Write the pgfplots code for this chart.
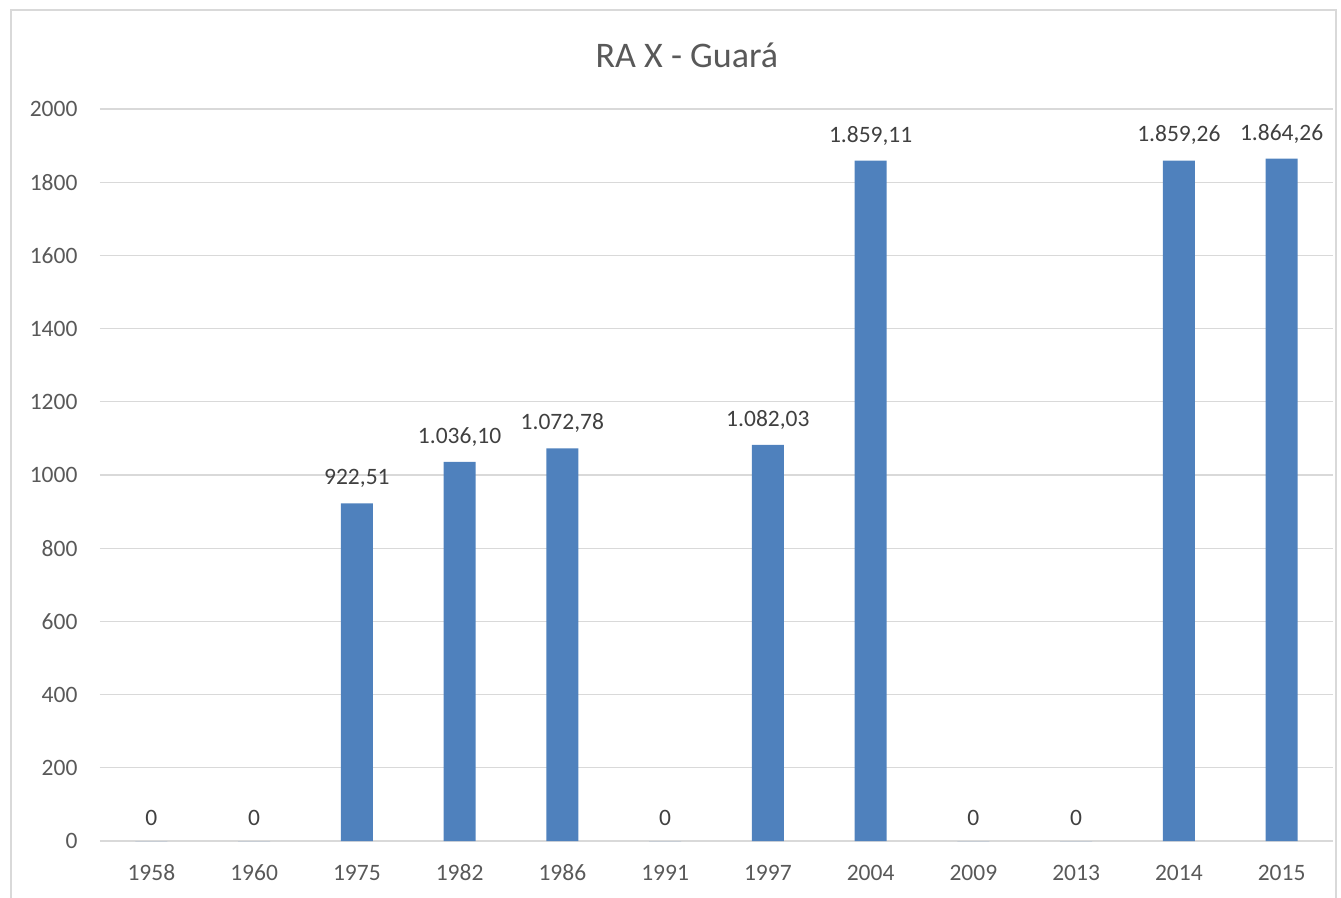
\documentclass[border=0pt]{standalone}
\usepackage{pgfplots}
\pgfplotsset{compat=1.18}
\usepackage{fontspec}
\setmainfont{Carlito}
\definecolor{barblue}{HTML}{4F81BD}
\definecolor{txt}{HTML}{595959}
\definecolor{lbltxt}{HTML}{404040}
\definecolor{gridgray}{HTML}{D9D9D9}
\begin{document}
\begin{tikzpicture}[x=1pt,y=1pt]
\useasboundingbox (-100,-56) rectangle (1241,841);
\begin{scope}
\clip (-100,-56) rectangle (1241,841);
\draw[gridgray,line width=1.2pt] (-89,-70) rectangle (1236,831);
\end{scope}
\begin{axis}[
  at={(0,0)}, anchor=south west,
  scale only axis, width=1233pt, height=732pt,
  xmin=-0.5, xmax=11.5, ymin=0, ymax=2000,
  xtick={0,...,11},
  xticklabels={1958,1960,1975,1982,1986,1991,1997,2004,2009,2013,2014,2015},
  ytick={0,200,...,2000},
  axis line style={draw=none},
  axis x line*=bottom,
  x axis line style={draw=gridgray, line width=1.2pt},
  xmajorgrids=false, ymajorgrids=true,
  grid style={draw=gridgray, line width=1.2pt},
  major tick length=0pt,
  tick style={draw=none},
  ticklabel style={font=\fontsize{23.5}{28}\selectfont, text=txt},
  yticklabel style={xshift=-19pt},
  xticklabel style={anchor=base, yshift=-39pt},
  /pgf/number format/assume math mode=true,
  /pgf/number format/1000 sep={},
  ybar, bar width=32pt,
  nodes near coords,
  point meta=explicit symbolic,
  every node near coord/.append style={font=\fontsize{23.5}{28}\selectfont, text=lbltxt, yshift=12pt},
  title={RA X - Guará},
  title style={font=\fontsize{36}{42}\selectfont, text=txt, at={(axis description cs:0.476,1)}, anchor=south, yshift=32pt},
]
\addplot[fill=barblue, draw=none] table[meta=lbl, row sep=\\] {
x y lbl\\
0 0 0\\
1 0 0\\
2 922.51 922,51\\
3 1036.10 1.036,10\\
4 1072.78 1.072,78\\
5 0 0\\
6 1082.03 1.082,03\\
7 1859.11 1.859,11\\
8 0 0\\
9 0 0\\
10 1859.26 1.859,26\\
11 1864.26 1.864,26\\
};
\end{axis}
\end{tikzpicture}
\end{document}
